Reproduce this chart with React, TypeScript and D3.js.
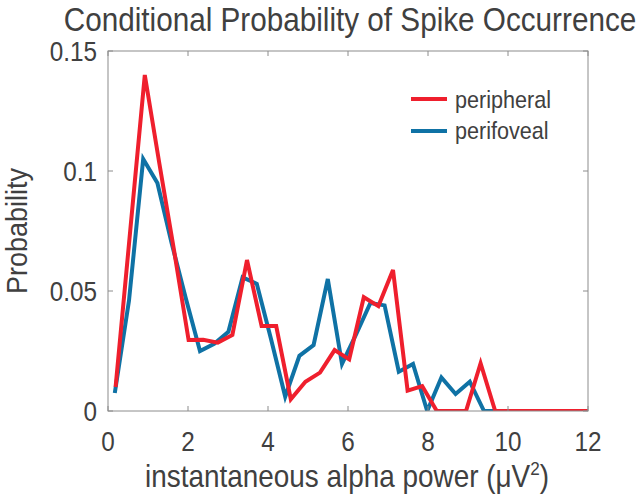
import React from 'react';
import * as d3 from 'd3';

const peripheralX = [0.19, 0.555, 0.92, 1.285, 1.65, 2.015, 2.38, 2.745, 3.11, 3.475, 3.84, 4.205, 4.57, 4.935, 5.3, 5.665, 6.03, 6.395, 6.76, 7.125, 7.49, 7.855, 8.22, 8.585, 8.95, 9.315, 9.68, 10.045, 10.41, 10.775, 11.14, 11.505, 11.87, 12.0];
const peripheralY = [0.010, 0.075, 0.140, 0.103, 0.067, 0.0296, 0.0297, 0.0285, 0.0317, 0.0629, 0.0354, 0.0354, 0.0049, 0.0122, 0.016, 0.0254, 0.0215, 0.0474, 0.0437, 0.0588, 0.0085, 0.0104, 0, 0, 0, 0.0199, 0, 0, 0, 0, 0, 0, 0, 0];
const perifovealX = [0.17, 0.525, 0.88, 1.235, 1.59, 1.945, 2.3, 2.655, 3.01, 3.365, 3.72, 4.075, 4.43, 4.785, 5.14, 5.495, 5.85, 6.205, 6.56, 6.915, 7.27, 7.625, 7.98, 8.335, 8.69, 9.045, 9.4, 9.755];
const perifovealY = [0.0075, 0.046, 0.105, 0.095, 0.070, 0.047, 0.025, 0.028, 0.033, 0.0557, 0.053, 0.030, 0.006, 0.023, 0.0275, 0.055, 0.0196, 0.032, 0.045, 0.044, 0.0164, 0.0196, 0, 0.014, 0.0071, 0.0122, 0, 0];

const xTicks = [0, 2, 4, 6, 8, 10, 12];
const xTickLabels = ['0', '2', '4', '6', '8', '10', '12'];
const yTicks = [0, 0.05, 0.1, 0.15];
const yTickLabels = ['0', '0.05', '0.1', '0.15'];

const seriesNames = ['peripheral', 'perifoveal'];
const seriesColors = ['#ef1f2d', '#0f72a5'];

const W = 640, H = 499;
const left = 108, right = 588, top = 51, bottom = 411;
const FONT = '"Liberation Sans", Arial, Helvetica, sans-serif';
const TXT = '#404040';
const AX = '#8c8c8c';
const SQ = 0.9;

function T({ x, y, size, anchor = 'start', rotate = 0, children, baseline }: any) {
  return (
    <g transform={`translate(${x},${y}) rotate(${rotate}) scale(${SQ},1)`}>
      <text x={0} y={0} fontFamily={FONT} fontSize={size} fill={TXT} textAnchor={anchor} dominantBaseline={baseline}>
        {children}
      </text>
    </g>
  );
}

export default function App() {
  const x = d3.scaleLinear().domain([0, 12]).range([left, right]);
  const y = d3.scaleLinear().domain([0, 0.15]).range([bottom, top]);
  const line = d3.line<[number, number]>().x(d => x(d[0])).y(d => y(d[1]));
  const redPts = peripheralX.map((v, i) => [v, peripheralY[i]] as [number, number]);
  const bluePts = perifovealX.map((v, i) => [v, perifovealY[i]] as [number, number]);
  const tl = 5;
  return (
    <svg width={W} height={H} style={{ position: 'absolute', left: 0, top: 0, background: '#fff' }}>
      <defs>
        <clipPath id="plotclip">
          <rect x={left} y={top} width={right - left} height={bottom - top} />
        </clipPath>
      </defs>
      <rect x={0} y={0} width={W} height={H} fill="#fff" />
      <g clipPath="url(#plotclip)">
        <path d={line(bluePts) || ''} fill="none" stroke={seriesColors[1]} strokeWidth={4} />
        <path d={line(redPts) || ''} fill="none" stroke={seriesColors[0]} strokeWidth={4} />
      </g>
      <rect x={left} y={top} width={right - left} height={bottom - top} fill="none" stroke={AX} strokeWidth={1} />
      {xTicks.map((t, i) => (
        <g key={'xt' + i}>
          <line x1={x(t)} x2={x(t)} y1={bottom} y2={bottom - tl} stroke={AX} />
          <line x1={x(t)} x2={x(t)} y1={top} y2={top + tl} stroke={AX} />
          <T x={x(t)} y={451} size={27} anchor="middle">{xTickLabels[i]}</T>
        </g>
      ))}
      {yTicks.map((t, i) => (
        <g key={'yt' + i}>
          <line x1={left} x2={left + tl} y1={y(t)} y2={y(t)} stroke={AX} />
          <line x1={right} x2={right - tl} y1={y(t)} y2={y(t)} stroke={AX} />
          <T x={97} y={y(t) + 10} size={27} anchor="end">{yTickLabels[i]}</T>
        </g>
      ))}
      <T x={350} y={31} size={33} anchor="middle">Conditional Probability of Spike Occurrence</T>
      <T x={347} y={487} size={31} anchor="middle">
        {'instantaneous alpha power (μV'}
        <tspan dy={-12} fontSize={19}>2</tspan>
        <tspan dy={12}>)</tspan>
      </T>
      <T x={27} y={231} size={30} anchor="middle" rotate={-90}>Probability</T>
      {seriesNames.map((n, i) => (
        <g key={'lg' + i}>
          <line x1={411} x2={447} y1={99 + i * 32} y2={99 + i * 32} stroke={seriesColors[i]} strokeWidth={4} />
          <T x={455} y={108 + i * 31} size={24}>{n}</T>
        </g>
      ))}
    </svg>
  );
}
